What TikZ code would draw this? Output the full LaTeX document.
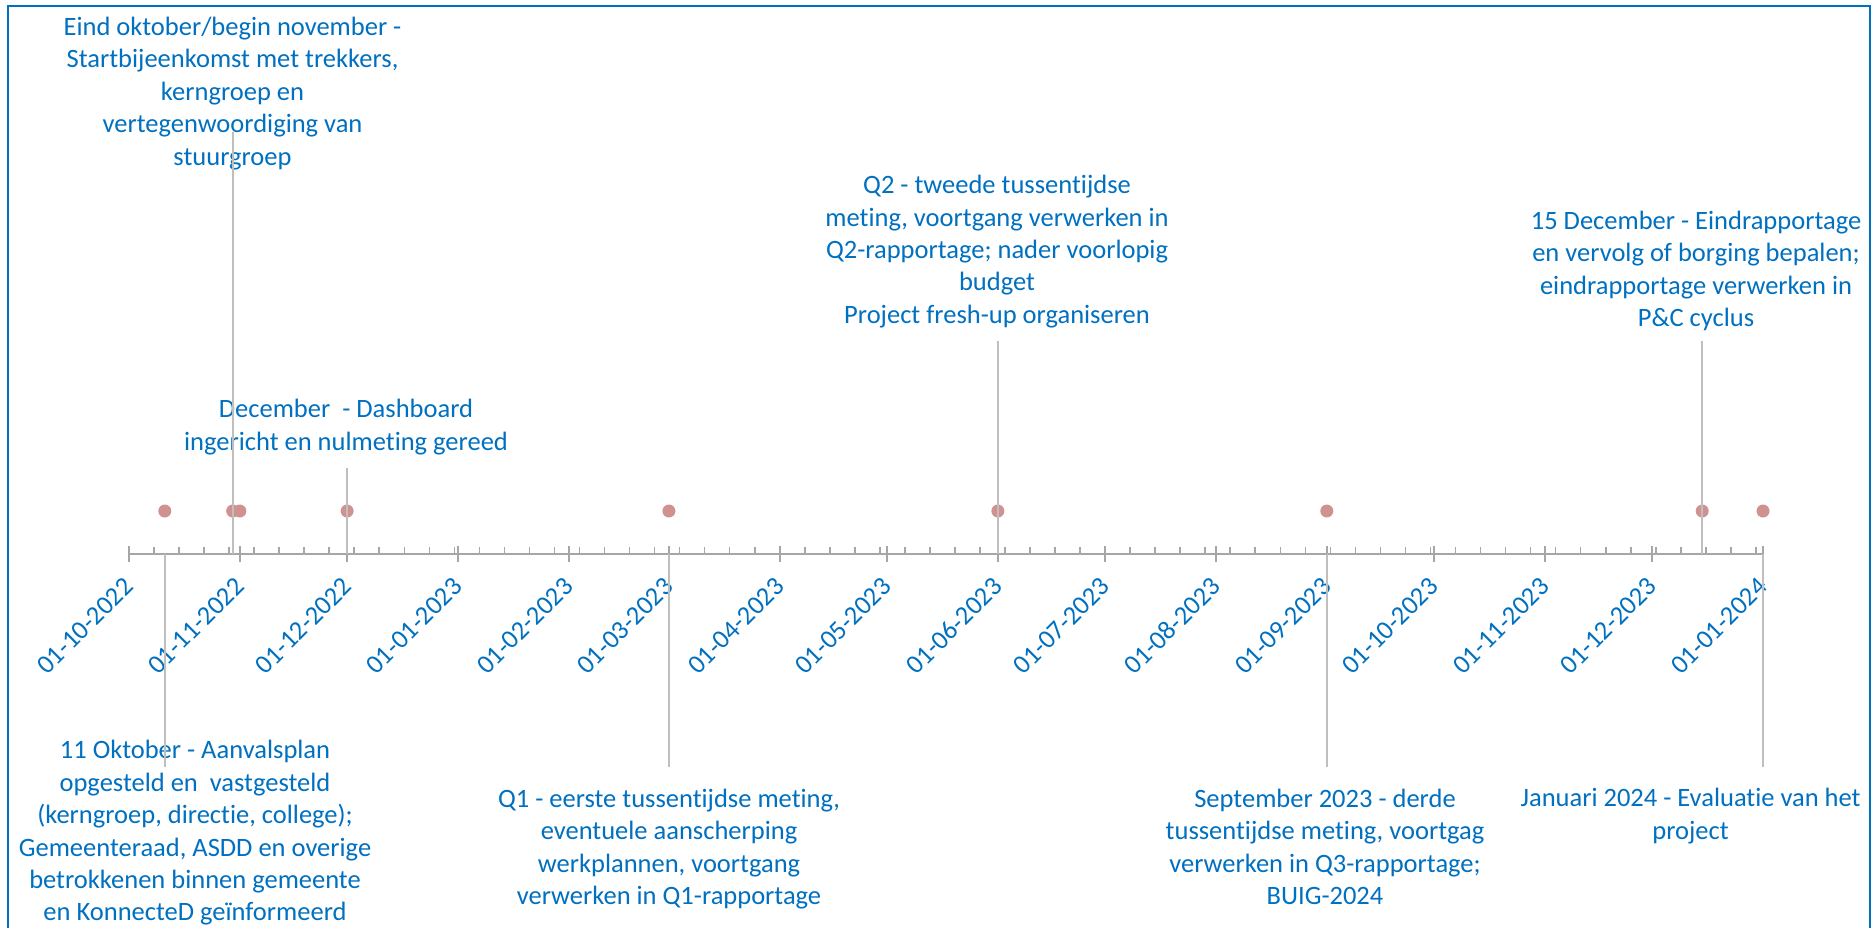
\documentclass[tikz,border=0pt]{standalone}
\usepackage{fontspec}
\setmainfont[Ligatures=NoCommon]{Carlito}
\usetikzlibrary{calc}
\definecolor{txtblue}{RGB}{0,112,192}
\definecolor{axisgray}{RGB}{166,166,166}
\definecolor{leadgray}{RGB}{191,191,191}
\definecolor{dotpink}{RGB}{208,146,145}
\begin{document}
\begin{tikzpicture}[x=1pt,y=-1pt,
  lbl/.style={text=txtblue, font=\fontsize{26.5}{32.4}\selectfont, align=center, inner sep=0pt},
  datelbl/.style={text=txtblue, font=\fontsize{26.5}{30}\selectfont, rotate=45, anchor=east, inner sep=0pt},
  leader/.style={draw=leadgray, line width=1.8pt},
  axisline/.style={draw=axisgray, line width=2.6pt},
  majortick/.style={draw=axisgray, line width=2pt},
  minortick/.style={draw=axisgray, line width=1.6pt},
  dot/.style={circle, fill=dotpink, inner sep=0pt, minimum size=13pt},
  frame/.style={draw=txtblue, line width=2pt}]

\useasboundingbox (0,0) rectangle (1874,927);
\clip (0,0) rectangle (1874,927);
\fill[white] (0,0) rectangle (1874,927);

% frame
\coordinate (fBL) at (8,940);
\coordinate (fTL) at (8,6);
\coordinate (fTR) at (1870,6);
\coordinate (fBR) at (1870,940);
\draw[frame] (fBL) -- (fTL) -- (fTR) -- (fBR);

% labels
\node[lbl] (l2) at (232.5,93.3) {Eind oktober/begin november -\\Startbijeenkomst met trekkers,\\kerngroep en\\vertegenwoordiging van\\stuurgroep};
\node[lbl] (l4) at (346,427) {December\ \ - Dashboard\\ingericht en nulmeting gereed};
\node[lbl] (l6) at (997,251.5) {Q2 - tweede tussentijdse\\meting, voortgang verwerken in\\Q2-rapportage; nader voorlopig\\budget\\Project fresh-up organiseren};
\node[lbl] (l8) at (1696,271) {15 December - Eindrapportage\\en vervolg of borging bepalen;\\eindrapportage verwerken in\\P\&C cyclus};
\node[lbl] (l1) at (195,833) {11 Oktober - Aanvalsplan\\opgesteld en\ \ vastgesteld\\(kerngroep, directie, college);\\Gemeenteraad, ASDD en overige\\betrokkenen binnen gemeente\\en KonnecteD geïnformeerd};
\node[lbl] (l5) at (669,849) {Q1 - eerste tussentijdse meting,\\eventuele aanscherping\\werkplannen, voortgang\\verwerken in Q1-rapportage};
\node[lbl] (l7) at (1325,847) {September 2023 - derde\\tussentijdse meting, voortgag\\verwerken in Q3-rapportage;\\BUIG-2024};
\node[lbl] (l9) at (1690.6,816) {Januari 2024 - Evaluatie van het\\project};

% axis
\coordinate (axL) at (129,554);
\coordinate (axR) at (1763,554);
\foreach \k in {1,...,65}
  \draw[minortick] ({129+7*\k*3.5755},554) -- ++(0,-7);
\draw[axisline] (axL) -- (axR);
\foreach \d/\t in {0/01-10-2022,31/01-11-2022,61/01-12-2022,92/01-01-2023,123/01-02-2023,151/01-03-2023,182/01-04-2023,212/01-05-2023,243/01-06-2023,273/01-07-2023,304/01-08-2023,335/01-09-2023,365/01-10-2023,396/01-11-2023,426/01-12-2023,457/01-01-2024}{
  \draw[majortick] ({129+\d*3.5755},546) -- ({129+\d*3.5755},562);
  \node[datelbl] (date\d) at ({129+\d*3.5755},582) {\t};
}

% event points
\foreach \n/\d in {1/10,2/29,3/31,4/61,5/151,6/243,7/335,8/440,9/457}{
  \node[dot] (p\n) at ({129+\d*3.5755},511) {};
  \coordinate (a\n) at ({129+\d*3.5755},554);
}

% leader ends
\coordinate (t1) at ($(a1)+(0,213)$);
\coordinate (t2) at ($(a2)+(0,-422.3)$);
\coordinate (t4) at ($(a4)+(0,-85.7)$);
\coordinate (t5) at ($(a5)+(0,213)$);
\coordinate (t6) at ($(a6)+(0,-213.3)$);
\coordinate (t7) at ($(a7)+(0,213)$);
\coordinate (t8) at ($(a8)+(0,-213.3)$);
\coordinate (t9) at ($(a9)+(0,213)$);

\foreach \n in {1,2,4,5,6,7,8,9}
  \draw[leader] (a\n) -- (t\n);

\end{tikzpicture}
\end{document}
